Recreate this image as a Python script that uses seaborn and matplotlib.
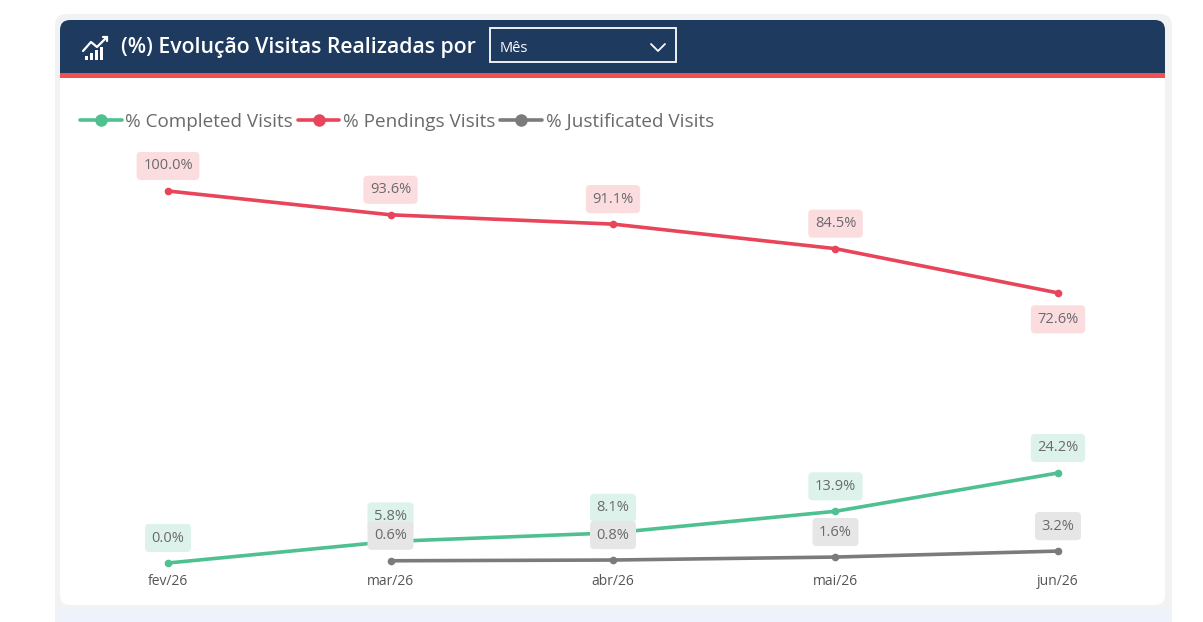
import numpy as np
import pandas as pd
import matplotlib
matplotlib.use("Agg")
import matplotlib.pyplot as plt
from matplotlib.patches import FancyBboxPatch, Rectangle
from matplotlib.lines import Line2D
import seaborn as sns

# ---- data ----
months = ["fev/26", "mar/26", "abr/26", "mai/26", "jun/26"]
completed = [0.0, 5.8, 8.1, 13.9, 24.2]
pendings = [100.0, 93.6, 91.1, 84.5, 72.6]
justificated = [np.nan, 0.6, 0.8, 1.6, 3.2]
series_names = ["% Completed Visits", "% Pendings Visits", "% Justificated Visits"]
title_text = "(%) Evolução Visitas Realizadas por"
dropdown_text = "Mês"

colors = {"% Completed Visits": "#4fc08f",
          "% Pendings Visits": "#e8455a",
          "% Justificated Visits": "#7b7b7b"}
label_bg = {"% Completed Visits": "#ddf2ea",
            "% Pendings Visits": "#fbdde0",
            "% Justificated Visits": "#e6e6e6"}

rows = []
for name, vals in zip(series_names, [completed, pendings, justificated]):
    for m, v in zip(months, vals):
        rows.append({"month": m, "value": v, "series": name})
df = pd.DataFrame(rows)

sns.set_theme(style="white")
plt.rcParams['font.family'] = ['Open Sans', 'DejaVu Sans']

W, H = 1203, 622
fig = plt.figure(figsize=(W / 100, H / 100), dpi=100)
fig.patch.set_facecolor("white")

# ---- background / card in pixel coords ----
bg = fig.add_axes([0, 0, 1, 1], zorder=-5)
bg.set_xlim(0, W)
bg.set_ylim(H, 0)
bg.axis("off")
bg.add_patch(FancyBboxPatch((55, 14), 1117, 640, boxstyle="round,pad=0,rounding_size=12",
                            facecolor="#f1f2f4", edgecolor="none"))
bg.add_patch(Rectangle((55, 609), 1117, 14, facecolor="#eef2fa", edgecolor="none"))
bg.add_patch(FancyBboxPatch((60, 20), 1105, 585, boxstyle="round,pad=0,rounding_size=10",
                            facecolor="white", edgecolor="none"))
bg.add_patch(FancyBboxPatch((60, 20), 1105, 40, boxstyle="round,pad=0,rounding_size=10",
                            facecolor="#1e3a5f", edgecolor="none"))
bg.add_patch(Rectangle((60, 40), 1105, 34, facecolor="#1e3a5f", edgecolor="none"))
bg.add_patch(Rectangle((60, 73), 1105, 5, facecolor="#f04f55", edgecolor="none"))

# icon
for i, h in enumerate([4, 7, 10, 13]):
    bg.add_patch(Rectangle((85 + i * 5, 60 - h), 3, h, facecolor="white", edgecolor="none"))
bg.plot([83, 91, 97, 107], [51, 42, 47, 37], color="white", lw=1.6, solid_capstyle="round")
bg.plot([103, 107, 107], [37, 37, 41], color="white", lw=1.6)

bg.text(121, 47, title_text, color="white", fontsize=15.3, fontweight="semibold",
        va="center", ha="left", family=["Open Sans", "DejaVu Sans"])
bg.add_patch(Rectangle((490, 28), 186, 34, facecolor="none", edgecolor="white", lw=1.3))
bg.text(500, 48, dropdown_text, color="white", fontsize=10.5, va="center", ha="left")
bg.plot([651, 658, 665], [44, 51, 44], color="white", lw=1.3)

# ---- chart axes ----
px_per_cat = 222.5
x_first = 168
ax_left_px, ax_right_px = 110, 1120
ax_top_px, ax_bot_px = 140, 570
y0_px, px_per_pct = 563, 3.72
ax = fig.add_axes([ax_left_px / W, 1 - ax_bot_px / H,
                   (ax_right_px - ax_left_px) / W, (ax_bot_px - ax_top_px) / H])
ax.patch.set_alpha(0)

sns.lineplot(data=df, x="month", y="value", hue="series", palette=colors,
             hue_order=series_names, marker="o", markersize=5.5, markeredgewidth=0,
             linewidth=2.6, sort=False, legend=False, ax=ax)

ax.set_xlim(-(x_first - ax_left_px) / px_per_cat, 4 + (ax_right_px - (x_first + 4 * px_per_cat)) / px_per_cat)
ax.set_ylim((y0_px - ax_bot_px) / px_per_pct, (y0_px - ax_top_px) / px_per_pct)
ax.set_xticks(range(len(months)))
ax.set_xticklabels(months, color="#555555", fontsize=10)
ax.tick_params(axis="x", length=0, pad=3)
ax.set_yticks([])
ax.set_xlabel("")
ax.set_ylabel("")
for s in ax.spines.values():
    s.set_visible(False)

# data labels
for name, vals in zip(series_names, [completed, pendings, justificated]):
    for i, v in enumerate(vals):
        if np.isnan(v):
            continue
        below = (name == "% Pendings Visits" and i == len(vals) - 1)
        off = -19 if below else 18
        ax.annotate(f"{v:.1f}%", (i, v), xytext=(0, off), textcoords="offset points",
                    ha="center", va="center", fontsize=10.5, color="#6a6a6a",
                    bbox=dict(boxstyle="round,pad=0.45,rounding_size=0.3",
                              facecolor=label_bg[name], edgecolor="none"),
                    annotation_clip=False, zorder=5)

# legend
handles = [Line2D([0], [0], color=colors[n], lw=2.6, marker="o", markersize=9,
                  markeredgewidth=0) for n in series_names]
leg = fig.legend(handles, series_names, loc="center left",
                 bbox_to_anchor=(80 / W, 1 - 122 / H), bbox_transform=fig.transFigure,
                 ncol=3, frameon=False, fontsize=13.6, handlelength=2.2,
                 handletextpad=0.2, columnspacing=0.25, borderpad=0, borderaxespad=0)
for t in leg.get_texts():
    t.set_color("#6a6a6a")

fig.savefig("out.png", dpi=100, facecolor=fig.get_facecolor())
